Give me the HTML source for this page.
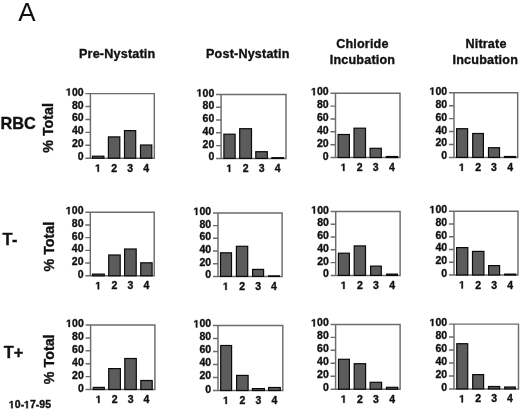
<!DOCTYPE html>
<html><head><meta charset="utf-8"><style>
html,body{margin:0;padding:0;background:#fff;}
body{width:520px;height:410px;overflow:hidden;}
svg{display:block;filter:grayscale(1);}
text{font-family:"Liberation Sans",sans-serif;font-weight:bold;fill:#111;stroke:#111;stroke-width:0.35px;}
use{fill:#111;stroke:#111;stroke-width:0.35px;}
</style></head><body>
<svg width="520" height="410" viewBox="0 0 520 410">
<defs><path id="one" vector-effect="non-scaling-stroke" d="M428 0L428 1170L95 962L95 1185L443 1409L709 1409L709 0Z"/></defs>
<rect width="520" height="410" fill="#fff"/>
<text x="18.3" y="20.8" font-size="26" style="font-weight:normal;stroke:none">A</text>
<text x="117.2" y="58.4" font-size="12.6" letter-spacing="0.18" text-anchor="middle">Pre-Nystatin</text>
<text x="247.8" y="58.4" font-size="12.6" letter-spacing="0.18" text-anchor="middle">Post-Nystatin</text>
<text x="362.4" y="48.3" font-size="12.6" letter-spacing="0.18" text-anchor="middle">Chloride</text>
<text x="362.5" y="64.2" font-size="12.6" letter-spacing="0.18" text-anchor="middle">Incubation</text>
<text x="486" y="48.3" font-size="12.6" letter-spacing="0.18" text-anchor="middle">Nitrate</text>
<text x="485.3" y="64.2" font-size="12.6" letter-spacing="0.18" text-anchor="middle">Incubation</text>
<text x="0.5" y="128.9" font-size="16.3">RBC</text>
<text x="2.4" y="245.2" font-size="16.4" letter-spacing="0.6">T-</text>
<text x="3.8" y="357.8" font-size="16.4">T+</text>
<text transform="translate(53.4 127.9) rotate(-90)" text-anchor="middle" font-size="14.3">% Total</text>
<text transform="translate(53.6 246.6) rotate(-90)" text-anchor="middle" font-size="14.3">% Total</text>
<text transform="translate(53.6 359.3) rotate(-90)" text-anchor="middle" font-size="14.3">% Total</text>
<text x="9" y="408.3" font-size="10.5"> 0- 7-95</text><use href="#one" transform="translate(9 408.3) scale(0.005127 -0.005127)"/><use href="#one" transform="translate(24.18 408.3) scale(0.005127 -0.005127)"/>
<path d="M85.4 93.6H154.3V158.2H85.4M90.4 93.6V158.2" fill="none" stroke="#6c6c6c" stroke-width="1.45"/>
<path d="M85.4 106.52H90.4M85.4 119.44H90.4M85.4 132.36H90.4M85.4 145.28H90.4" fill="none" stroke="#6c6c6c" stroke-width="1.45"/>
<text x="66.08" y="95.6" font-size="10.5"> 00</text><use href="#one" transform="translate(66.08 95.6) scale(0.005127 -0.005127)"/>
<text x="71.92" y="108.52" font-size="10.5">80</text>
<text x="71.92" y="121.44" font-size="10.5">60</text>
<text x="71.92" y="134.36" font-size="10.5">40</text>
<text x="71.92" y="147.28" font-size="10.5">20</text>
<text x="77.76" y="160.2" font-size="10.5">0</text>
<rect x="92.5" y="156.2" width="11.4" height="2" fill="#5c5c5c" stroke="#0a0a0a" stroke-width="1.2"/>
<text x="95.28" y="171.7" font-size="10.5"> </text><use href="#one" transform="translate(95.28 171.7) scale(0.005127 -0.005127)"/>
<rect x="108.4" y="136.9" width="11.4" height="21.3" fill="#5c5c5c" stroke="#0a0a0a" stroke-width="1.2"/>
<text x="111.18" y="171.7" font-size="10.5">2</text>
<rect x="124.5" y="130.6" width="11.2" height="27.6" fill="#5c5c5c" stroke="#0a0a0a" stroke-width="1.2"/>
<text x="127.18" y="171.7" font-size="10.5">3</text>
<rect x="140.5" y="145" width="11.3" height="13.2" fill="#5c5c5c" stroke="#0a0a0a" stroke-width="1.2"/>
<text x="143.23" y="171.7" font-size="10.5">4</text>
<path d="M216.1 94.5H286V158.4H216.1M221.1 94.5V158.4" fill="none" stroke="#6c6c6c" stroke-width="1.45"/>
<path d="M216.1 107.28H221.1M216.1 120.06H221.1M216.1 132.84H221.1M216.1 145.62H221.1" fill="none" stroke="#6c6c6c" stroke-width="1.45"/>
<text x="196.78" y="96.5" font-size="10.5"> 00</text><use href="#one" transform="translate(196.78 96.5) scale(0.005127 -0.005127)"/>
<text x="202.62" y="109.28" font-size="10.5">80</text>
<text x="202.62" y="122.06" font-size="10.5">60</text>
<text x="202.62" y="134.84" font-size="10.5">40</text>
<text x="202.62" y="147.62" font-size="10.5">20</text>
<text x="208.46" y="160.4" font-size="10.5">0</text>
<rect x="223.9" y="134.2" width="11.2" height="24.2" fill="#5c5c5c" stroke="#0a0a0a" stroke-width="1.2"/>
<text x="226.58" y="171.9" font-size="10.5"> </text><use href="#one" transform="translate(226.58 171.9) scale(0.005127 -0.005127)"/>
<rect x="239.7" y="128.7" width="11.8" height="29.7" fill="#5c5c5c" stroke="#0a0a0a" stroke-width="1.2"/>
<text x="242.68" y="171.9" font-size="10.5">2</text>
<rect x="255.8" y="151.7" width="11.5" height="6.7" fill="#5c5c5c" stroke="#0a0a0a" stroke-width="1.2"/>
<text x="258.63" y="171.9" font-size="10.5">3</text>
<rect x="271.9" y="157.7" width="11.6" height="0.7" fill="#5c5c5c" stroke="#0a0a0a" stroke-width="1.2"/>
<text x="274.78" y="171.9" font-size="10.5">4</text>
<path d="M330.5 93.3H400V157.5H330.5M335.5 93.3V157.5" fill="none" stroke="#6c6c6c" stroke-width="1.45"/>
<path d="M330.5 106.14H335.5M330.5 118.98H335.5M330.5 131.82H335.5M330.5 144.66H335.5" fill="none" stroke="#6c6c6c" stroke-width="1.45"/>
<text x="311.18" y="95.3" font-size="10.5"> 00</text><use href="#one" transform="translate(311.18 95.3) scale(0.005127 -0.005127)"/>
<text x="317.02" y="108.14" font-size="10.5">80</text>
<text x="317.02" y="120.98" font-size="10.5">60</text>
<text x="317.02" y="133.82" font-size="10.5">40</text>
<text x="317.02" y="146.66" font-size="10.5">20</text>
<text x="322.86" y="159.5" font-size="10.5">0</text>
<rect x="338.1" y="134.5" width="11.3" height="23" fill="#5c5c5c" stroke="#0a0a0a" stroke-width="1.2"/>
<text x="340.83" y="171" font-size="10.5"> </text><use href="#one" transform="translate(340.83 171) scale(0.005127 -0.005127)"/>
<rect x="354" y="128.2" width="11.5" height="29.3" fill="#5c5c5c" stroke="#0a0a0a" stroke-width="1.2"/>
<text x="356.83" y="171" font-size="10.5">2</text>
<rect x="370.1" y="148.3" width="11.2" height="9.2" fill="#5c5c5c" stroke="#0a0a0a" stroke-width="1.2"/>
<text x="372.78" y="171" font-size="10.5">3</text>
<rect x="386.3" y="156.5" width="11.3" height="1" fill="#5c5c5c" stroke="#0a0a0a" stroke-width="1.2"/>
<text x="389.03" y="171" font-size="10.5">4</text>
<path d="M449 92.8H517.7V157.4H449M454 92.8V157.4" fill="none" stroke="#6c6c6c" stroke-width="1.45"/>
<path d="M449 105.72H454M449 118.64H454M449 131.56H454M449 144.48H454" fill="none" stroke="#6c6c6c" stroke-width="1.45"/>
<text x="429.68" y="94.8" font-size="10.5"> 00</text><use href="#one" transform="translate(429.68 94.8) scale(0.005127 -0.005127)"/>
<text x="435.52" y="107.72" font-size="10.5">80</text>
<text x="435.52" y="120.64" font-size="10.5">60</text>
<text x="435.52" y="133.56" font-size="10.5">40</text>
<text x="435.52" y="146.48" font-size="10.5">20</text>
<text x="441.36" y="159.4" font-size="10.5">0</text>
<rect x="456.6" y="128.7" width="11" height="28.7" fill="#5c5c5c" stroke="#0a0a0a" stroke-width="1.2"/>
<text x="459.18" y="170.9" font-size="10.5"> </text><use href="#one" transform="translate(459.18 170.9) scale(0.005127 -0.005127)"/>
<rect x="472.7" y="133.5" width="10.7" height="23.9" fill="#5c5c5c" stroke="#0a0a0a" stroke-width="1.2"/>
<text x="475.13" y="170.9" font-size="10.5">2</text>
<rect x="488.5" y="147.7" width="11" height="9.7" fill="#5c5c5c" stroke="#0a0a0a" stroke-width="1.2"/>
<text x="491.08" y="170.9" font-size="10.5">3</text>
<rect x="504.5" y="156.5" width="11.1" height="0.9" fill="#5c5c5c" stroke="#0a0a0a" stroke-width="1.2"/>
<text x="507.13" y="170.9" font-size="10.5">4</text>
<path d="M85.3 212.2H154.2V275.8H85.3M90.3 212.2V275.8" fill="none" stroke="#6c6c6c" stroke-width="1.45"/>
<path d="M85.3 224.92H90.3M85.3 237.64H90.3M85.3 250.36H90.3M85.3 263.08H90.3" fill="none" stroke="#6c6c6c" stroke-width="1.45"/>
<text x="65.98" y="214.2" font-size="10.5"> 00</text><use href="#one" transform="translate(65.98 214.2) scale(0.005127 -0.005127)"/>
<text x="71.82" y="226.92" font-size="10.5">80</text>
<text x="71.82" y="239.64" font-size="10.5">60</text>
<text x="71.82" y="252.36" font-size="10.5">40</text>
<text x="71.82" y="265.08" font-size="10.5">20</text>
<text x="77.66" y="277.8" font-size="10.5">0</text>
<rect x="92.5" y="274.1" width="11.8" height="1.7" fill="#5c5c5c" stroke="#0a0a0a" stroke-width="1.2"/>
<text x="95.48" y="289.3" font-size="10.5"> </text><use href="#one" transform="translate(95.48 289.3) scale(0.005127 -0.005127)"/>
<rect x="108.7" y="255" width="11.5" height="20.8" fill="#5c5c5c" stroke="#0a0a0a" stroke-width="1.2"/>
<text x="111.53" y="289.3" font-size="10.5">2</text>
<rect x="124.6" y="249" width="11.6" height="26.8" fill="#5c5c5c" stroke="#0a0a0a" stroke-width="1.2"/>
<text x="127.48" y="289.3" font-size="10.5">3</text>
<rect x="140.7" y="262.8" width="11.4" height="13" fill="#5c5c5c" stroke="#0a0a0a" stroke-width="1.2"/>
<text x="143.48" y="289.3" font-size="10.5">4</text>
<path d="M213 212.9H282.1V276.4H213M218 212.9V276.4" fill="none" stroke="#6c6c6c" stroke-width="1.45"/>
<path d="M213 225.6H218M213 238.3H218M213 251H218M213 263.7H218" fill="none" stroke="#6c6c6c" stroke-width="1.45"/>
<text x="193.68" y="214.9" font-size="10.5"> 00</text><use href="#one" transform="translate(193.68 214.9) scale(0.005127 -0.005127)"/>
<text x="199.52" y="227.6" font-size="10.5">80</text>
<text x="199.52" y="240.3" font-size="10.5">60</text>
<text x="199.52" y="253" font-size="10.5">40</text>
<text x="199.52" y="265.7" font-size="10.5">20</text>
<text x="205.36" y="278.4" font-size="10.5">0</text>
<rect x="220.5" y="252.8" width="11" height="23.6" fill="#5c5c5c" stroke="#0a0a0a" stroke-width="1.2"/>
<text x="223.08" y="289.9" font-size="10.5"> </text><use href="#one" transform="translate(223.08 289.9) scale(0.005127 -0.005127)"/>
<rect x="236.4" y="246.3" width="11.3" height="30.1" fill="#5c5c5c" stroke="#0a0a0a" stroke-width="1.2"/>
<text x="239.13" y="289.9" font-size="10.5">2</text>
<rect x="252.6" y="269.4" width="11" height="7" fill="#5c5c5c" stroke="#0a0a0a" stroke-width="1.2"/>
<text x="255.18" y="289.9" font-size="10.5">3</text>
<rect x="268.6" y="275.9" width="10.8" height="0.5" fill="#5c5c5c" stroke="#0a0a0a" stroke-width="1.2"/>
<text x="271.08" y="289.9" font-size="10.5">4</text>
<path d="M330.7 211.5H400.1V275.4H330.7M335.7 211.5V275.4" fill="none" stroke="#6c6c6c" stroke-width="1.45"/>
<path d="M330.7 224.28H335.7M330.7 237.06H335.7M330.7 249.84H335.7M330.7 262.62H335.7" fill="none" stroke="#6c6c6c" stroke-width="1.45"/>
<text x="311.38" y="213.5" font-size="10.5"> 00</text><use href="#one" transform="translate(311.38 213.5) scale(0.005127 -0.005127)"/>
<text x="317.22" y="226.28" font-size="10.5">80</text>
<text x="317.22" y="239.06" font-size="10.5">60</text>
<text x="317.22" y="251.84" font-size="10.5">40</text>
<text x="317.22" y="264.62" font-size="10.5">20</text>
<text x="323.06" y="277.4" font-size="10.5">0</text>
<rect x="338.4" y="253.2" width="11" height="22.2" fill="#5c5c5c" stroke="#0a0a0a" stroke-width="1.2"/>
<text x="340.98" y="288.9" font-size="10.5"> </text><use href="#one" transform="translate(340.98 288.9) scale(0.005127 -0.005127)"/>
<rect x="354.2" y="245.9" width="11.3" height="29.5" fill="#5c5c5c" stroke="#0a0a0a" stroke-width="1.2"/>
<text x="356.93" y="288.9" font-size="10.5">2</text>
<rect x="370.6" y="266.1" width="10.7" height="9.3" fill="#5c5c5c" stroke="#0a0a0a" stroke-width="1.2"/>
<text x="373.03" y="288.9" font-size="10.5">3</text>
<rect x="386.7" y="274.1" width="10.7" height="1.3" fill="#5c5c5c" stroke="#0a0a0a" stroke-width="1.2"/>
<text x="389.13" y="288.9" font-size="10.5">4</text>
<path d="M449 211.2H518V275H449M454 211.2V275" fill="none" stroke="#6c6c6c" stroke-width="1.45"/>
<path d="M449 223.96H454M449 236.72H454M449 249.48H454M449 262.24H454" fill="none" stroke="#6c6c6c" stroke-width="1.45"/>
<text x="429.68" y="213.2" font-size="10.5"> 00</text><use href="#one" transform="translate(429.68 213.2) scale(0.005127 -0.005127)"/>
<text x="435.52" y="225.96" font-size="10.5">80</text>
<text x="435.52" y="238.72" font-size="10.5">60</text>
<text x="435.52" y="251.48" font-size="10.5">40</text>
<text x="435.52" y="264.24" font-size="10.5">20</text>
<text x="441.36" y="277" font-size="10.5">0</text>
<rect x="456.6" y="247.6" width="11.2" height="27.4" fill="#5c5c5c" stroke="#0a0a0a" stroke-width="1.2"/>
<text x="459.28" y="288.5" font-size="10.5"> </text><use href="#one" transform="translate(459.28 288.5) scale(0.005127 -0.005127)"/>
<rect x="472.5" y="251.4" width="11.4" height="23.6" fill="#5c5c5c" stroke="#0a0a0a" stroke-width="1.2"/>
<text x="475.28" y="288.5" font-size="10.5">2</text>
<rect x="488.6" y="265.6" width="11" height="9.4" fill="#5c5c5c" stroke="#0a0a0a" stroke-width="1.2"/>
<text x="491.18" y="288.5" font-size="10.5">3</text>
<rect x="504.7" y="274.1" width="11" height="0.9" fill="#5c5c5c" stroke="#0a0a0a" stroke-width="1.2"/>
<text x="507.28" y="288.5" font-size="10.5">4</text>
<path d="M85.6 325H154.9V389.5H85.6M90.6 325V389.5" fill="none" stroke="#6c6c6c" stroke-width="1.45"/>
<path d="M85.6 337.9H90.6M85.6 350.8H90.6M85.6 363.7H90.6M85.6 376.6H90.6" fill="none" stroke="#6c6c6c" stroke-width="1.45"/>
<text x="66.28" y="327" font-size="10.5"> 00</text><use href="#one" transform="translate(66.28 327) scale(0.005127 -0.005127)"/>
<text x="72.12" y="339.9" font-size="10.5">80</text>
<text x="72.12" y="352.8" font-size="10.5">60</text>
<text x="72.12" y="365.7" font-size="10.5">40</text>
<text x="72.12" y="378.6" font-size="10.5">20</text>
<text x="77.96" y="391.5" font-size="10.5">0</text>
<rect x="93.3" y="387.4" width="11" height="2.1" fill="#5c5c5c" stroke="#0a0a0a" stroke-width="1.2"/>
<text x="95.88" y="403" font-size="10.5"> </text><use href="#one" transform="translate(95.88 403) scale(0.005127 -0.005127)"/>
<rect x="108.7" y="368.6" width="11.7" height="20.9" fill="#5c5c5c" stroke="#0a0a0a" stroke-width="1.2"/>
<text x="111.63" y="403" font-size="10.5">2</text>
<rect x="124.8" y="358.5" width="11.5" height="31" fill="#5c5c5c" stroke="#0a0a0a" stroke-width="1.2"/>
<text x="127.63" y="403" font-size="10.5">3</text>
<rect x="140.8" y="380.5" width="11.4" height="9" fill="#5c5c5c" stroke="#0a0a0a" stroke-width="1.2"/>
<text x="143.58" y="403" font-size="10.5">4</text>
<path d="M213 325.4H282.8V390.5H213M218 325.4V390.5" fill="none" stroke="#6c6c6c" stroke-width="1.45"/>
<path d="M213 338.42H218M213 351.44H218M213 364.46H218M213 377.48H218" fill="none" stroke="#6c6c6c" stroke-width="1.45"/>
<text x="193.68" y="327.4" font-size="10.5"> 00</text><use href="#one" transform="translate(193.68 327.4) scale(0.005127 -0.005127)"/>
<text x="199.52" y="340.42" font-size="10.5">80</text>
<text x="199.52" y="353.44" font-size="10.5">60</text>
<text x="199.52" y="366.46" font-size="10.5">40</text>
<text x="199.52" y="379.48" font-size="10.5">20</text>
<text x="205.36" y="392.5" font-size="10.5">0</text>
<rect x="220.7" y="345.5" width="10.9" height="45" fill="#5c5c5c" stroke="#0a0a0a" stroke-width="1.2"/>
<text x="223.23" y="404" font-size="10.5"> </text><use href="#one" transform="translate(223.23 404) scale(0.005127 -0.005127)"/>
<rect x="236.6" y="375.4" width="11.5" height="15.1" fill="#5c5c5c" stroke="#0a0a0a" stroke-width="1.2"/>
<text x="239.43" y="404" font-size="10.5">2</text>
<rect x="252.4" y="388.6" width="12" height="1.9" fill="#5c5c5c" stroke="#0a0a0a" stroke-width="1.2"/>
<text x="255.48" y="404" font-size="10.5">3</text>
<rect x="268.6" y="387.5" width="11.7" height="3" fill="#5c5c5c" stroke="#0a0a0a" stroke-width="1.2"/>
<text x="271.53" y="404" font-size="10.5">4</text>
<path d="M330.6 324.4H400.1V389.2H330.6M335.6 324.4V389.2" fill="none" stroke="#6c6c6c" stroke-width="1.45"/>
<path d="M330.6 337.36H335.6M330.6 350.32H335.6M330.6 363.28H335.6M330.6 376.24H335.6" fill="none" stroke="#6c6c6c" stroke-width="1.45"/>
<text x="311.28" y="326.4" font-size="10.5"> 00</text><use href="#one" transform="translate(311.28 326.4) scale(0.005127 -0.005127)"/>
<text x="317.12" y="339.36" font-size="10.5">80</text>
<text x="317.12" y="352.32" font-size="10.5">60</text>
<text x="317.12" y="365.28" font-size="10.5">40</text>
<text x="317.12" y="378.24" font-size="10.5">20</text>
<text x="322.96" y="391.2" font-size="10.5">0</text>
<rect x="338.5" y="359.3" width="10.9" height="29.9" fill="#5c5c5c" stroke="#0a0a0a" stroke-width="1.2"/>
<text x="341.03" y="402.7" font-size="10.5"> </text><use href="#one" transform="translate(341.03 402.7) scale(0.005127 -0.005127)"/>
<rect x="354.2" y="363.7" width="11.4" height="25.5" fill="#5c5c5c" stroke="#0a0a0a" stroke-width="1.2"/>
<text x="356.98" y="402.7" font-size="10.5">2</text>
<rect x="370.1" y="382.3" width="11.5" height="6.9" fill="#5c5c5c" stroke="#0a0a0a" stroke-width="1.2"/>
<text x="372.93" y="402.7" font-size="10.5">3</text>
<rect x="386.4" y="387.3" width="11.3" height="1.9" fill="#5c5c5c" stroke="#0a0a0a" stroke-width="1.2"/>
<text x="389.13" y="402.7" font-size="10.5">4</text>
<path d="M449 324.1H518.5V388.9H449M454 324.1V388.9" fill="none" stroke="#6c6c6c" stroke-width="1.45"/>
<path d="M449 337.06H454M449 350.02H454M449 362.98H454M449 375.94H454" fill="none" stroke="#6c6c6c" stroke-width="1.45"/>
<text x="429.68" y="326.1" font-size="10.5"> 00</text><use href="#one" transform="translate(429.68 326.1) scale(0.005127 -0.005127)"/>
<text x="435.52" y="339.06" font-size="10.5">80</text>
<text x="435.52" y="352.02" font-size="10.5">60</text>
<text x="435.52" y="364.98" font-size="10.5">40</text>
<text x="435.52" y="377.94" font-size="10.5">20</text>
<text x="441.36" y="390.9" font-size="10.5">0</text>
<rect x="456.8" y="343.7" width="10.9" height="45.2" fill="#5c5c5c" stroke="#0a0a0a" stroke-width="1.2"/>
<text x="459.33" y="402.4" font-size="10.5"> </text><use href="#one" transform="translate(459.33 402.4) scale(0.005127 -0.005127)"/>
<rect x="472.7" y="374.6" width="10.9" height="14.3" fill="#5c5c5c" stroke="#0a0a0a" stroke-width="1.2"/>
<text x="475.23" y="402.4" font-size="10.5">2</text>
<rect x="488.5" y="386.5" width="11.2" height="2.4" fill="#5c5c5c" stroke="#0a0a0a" stroke-width="1.2"/>
<text x="491.18" y="402.4" font-size="10.5">3</text>
<rect x="504.7" y="387" width="10.6" height="1.9" fill="#5c5c5c" stroke="#0a0a0a" stroke-width="1.2"/>
<text x="507.08" y="402.4" font-size="10.5">4</text>
</svg>
</body></html>
